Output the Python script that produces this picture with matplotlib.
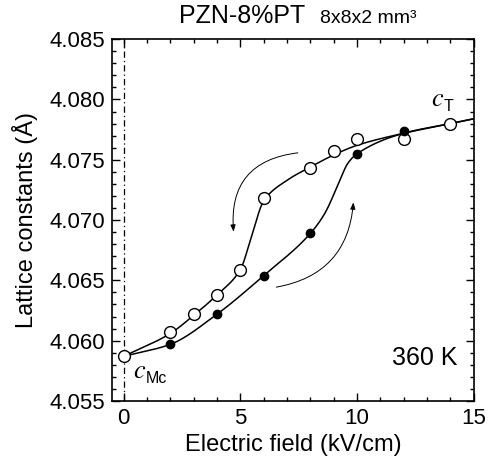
import numpy as np
import matplotlib
matplotlib.use("Agg")
import matplotlib.pyplot as plt
from matplotlib.patches import FancyArrowPatch
from matplotlib.ticker import MultipleLocator, FormatStrFormatter

plt.rcParams['font.family'] = ['Liberation Sans', 'DejaVu Sans']
plt.rcParams['mathtext.fontset'] = 'stix'

# Data: decreasing field (open) and increasing field (filled)
E_open = [0, 2, 3, 4, 5, 6, 8, 9, 10, 12, 14]
c_open = [4.0587, 4.0607, 4.0622, 4.0638, 4.0659, 4.0718, 4.0743, 4.0757, 4.0767, 4.0767, 4.0780]
E_fill = [2, 4, 6, 8, 10, 12]
c_fill = [4.0597, 4.0622, 4.0654, 4.0689, 4.0755, 4.0774]

# Guide-to-eye curves
guide_open_E = [0, 2, 3, 4, 5, 5.5, 6, 7, 8, 9, 10, 12, 14, 15]
guide_open_c = [4.0587, 4.0606, 4.0621, 4.0638, 4.0659, 4.0688, 4.0716, 4.0733, 4.0744, 4.0754, 4.0762, 4.0772, 4.0780, 4.0784]
guide_fill_E = [0, 2, 4, 6, 8, 8.6, 9.2, 9.6, 10, 12, 14, 15]
guide_fill_c = [4.0587, 4.0597, 4.0622, 4.0654, 4.0689, 4.0705, 4.0730, 4.0747, 4.0755, 4.0772, 4.0780, 4.0784]


def pchip(x, y, xn):
    x = np.asarray(x, float); y = np.asarray(y, float)
    h = np.diff(x); d = np.diff(y) / h
    n = len(x); m = np.zeros(n)
    for k in range(1, n - 1):
        if d[k - 1] * d[k] > 0:
            w1 = 2 * h[k] + h[k - 1]; w2 = h[k] + 2 * h[k - 1]
            m[k] = (w1 + w2) / (w1 / d[k - 1] + w2 / d[k])
    m[0] = d[0]; m[-1] = d[-1]
    idx = np.clip(np.searchsorted(x, xn) - 1, 0, n - 2)
    t = (xn - x[idx]) / h[idx]
    h00 = 2 * t**3 - 3 * t**2 + 1; h10 = t**3 - 2 * t**2 + t
    h01 = -2 * t**3 + 3 * t**2; h11 = t**3 - t**2
    return h00 * y[idx] + h10 * h[idx] * m[idx] + h01 * y[idx + 1] + h11 * h[idx] * m[idx + 1]


fig = plt.figure(figsize=(4.89, 4.66), dpi=100)
ax = fig.add_axes([0.229, 0.1395, 0.740, 0.7765])

xx = np.linspace(0, 15, 400)
ax.plot(xx, pchip(guide_open_E, guide_open_c, xx), color='black', lw=1.1, zorder=2)
ax.plot(xx, pchip(guide_fill_E, guide_fill_c, xx), color='black', lw=1.1, zorder=2)

ax.plot(E_open, c_open, 'o', mfc='white', mec='black', ms=8.5, mew=1.0, zorder=3)
ax.plot(E_fill, c_fill, 'o', mfc='black', mec='black', ms=6, zorder=4)

ax.axvline(0, color='black', lw=0.9, ls=(0, (5, 2.5, 1, 2.5)), zorder=1)

# curved arrows
a1 = FancyArrowPatch((7.58, 4.0756), (4.72, 4.0688), connectionstyle='arc3,rad=0.5',
                     arrowstyle='-|>,head_length=4,head_width=1.5', lw=0.7, color='black')
a2 = FancyArrowPatch((6.42, 4.0644), (9.85, 4.0717), connectionstyle='arc3,rad=0.4',
                     arrowstyle='-|>,head_length=4,head_width=1.5', lw=0.7, color='black')
ax.add_patch(a1); ax.add_patch(a2)

ax.set_xlim(-0.5, 15)
ax.set_ylim(4.055, 4.085)
ax.xaxis.set_major_locator(MultipleLocator(5))
ax.xaxis.set_minor_locator(MultipleLocator(1))
ax.yaxis.set_major_locator(MultipleLocator(0.005))
ax.yaxis.set_minor_locator(MultipleLocator(0.001))
ax.yaxis.set_major_formatter(FormatStrFormatter('%.3f'))
ax.tick_params(which='both', direction='in', top=True, right=True, labelsize=16, width=1.0)
ax.tick_params(which='major', length=6, pad=5)
ax.tick_params(which='minor', length=3)
for s in ax.spines.values():
    s.set_linewidth(1.2)

ax.set_xlabel('Electric field (kV/cm)', fontsize=17, labelpad=4)
ax.set_ylabel('Lattice constants (Å)', fontsize=17, labelpad=8)

ax.text(13.45, 4.0800, r'$c$', fontsize=19, ha='center', va='center')
ax.text(13.72, 4.0794, 'T', fontsize=11.5, ha='left', va='center')
ax.text(0.68, 4.0575, r'$c$', fontsize=19, ha='center', va='center')
ax.text(0.95, 4.0569, 'Mc', fontsize=11.5, ha='left', va='center')
ax.text(14.3, 4.0586, '360 K', fontsize=18, ha='right', va='center')

fig.text(0.625, 0.966, 'PZN-8%PT', fontsize=18, ha='right', va='center')
fig.text(0.655, 0.961, '8x8x2 mm³', fontsize=14, ha='left', va='center')

fig.savefig('out.png', dpi=100)
